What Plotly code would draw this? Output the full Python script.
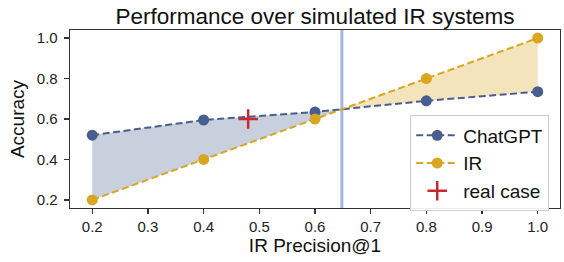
import plotly.graph_objects as go

# ---- data ----
precision = [0.2, 0.4, 0.6, 0.8, 1.0]
chatgpt_acc = [0.52, 0.595, 0.635, 0.69, 0.735]
ir_acc = [0.2, 0.4, 0.6, 0.8, 1.0]
real_x = [0.48]
real_y = [0.60]
x_ticks = [0.2, 0.3, 0.4, 0.5, 0.6, 0.7, 0.8, 0.9, 1.0]
y_ticks = [0.2, 0.4, 0.6, 0.8, 1.0]

BLUE = "#485f8e"
GOLD = "#daa520"
FONT = "Liberation Sans, Arial, sans-serif"

# ---- crossing point of the two curves ----
xi, yi, seg = None, None, None
for i in range(len(precision) - 1):
    d0 = chatgpt_acc[i] - ir_acc[i]
    d1 = chatgpt_acc[i + 1] - ir_acc[i + 1]
    if d0 * d1 < 0:
        t = d0 / (d0 - d1)
        xi = precision[i] + t * (precision[i + 1] - precision[i])
        yi = chatgpt_acc[i] + t * (chatgpt_acc[i + 1] - chatgpt_acc[i])
        seg = i
        break

fig = go.Figure()

# blue region (ChatGPT above IR)
bx = precision[:seg + 1] + [xi] + precision[:seg + 1][::-1]
by = chatgpt_acc[:seg + 1] + [yi] + ir_acc[:seg + 1][::-1]
fig.add_trace(go.Scatter(x=bx, y=by, fill="toself", mode="none",
                         fillcolor="rgba(72,95,142,0.30)", showlegend=False, hoverinfo="skip"))
# gold region (IR above ChatGPT)
gx = [xi] + precision[seg + 1:] + precision[seg + 1:][::-1]
gy = [yi] + ir_acc[seg + 1:] + chatgpt_acc[seg + 1:][::-1]
fig.add_trace(go.Scatter(x=gx, y=gy, fill="toself", mode="none",
                         fillcolor="rgba(218,165,32,0.30)", showlegend=False, hoverinfo="skip"))

fig.add_vline(x=xi, line=dict(color="#a4b6df", width=3), layer="below")

fig.add_trace(go.Scatter(x=precision, y=chatgpt_acc, mode="lines+markers", name="ChatGPT",
                         line=dict(color=BLUE, width=2, dash="7px,3.5px"),
                         marker=dict(color=BLUE, size=11)))
fig.add_trace(go.Scatter(x=precision, y=ir_acc, mode="lines+markers", name="IR",
                         line=dict(color=GOLD, width=2, dash="7px,3.5px"),
                         marker=dict(color=GOLD, size=11)))
fig.add_trace(go.Scatter(x=real_x, y=real_y, mode="markers", name="real case",
                         marker=dict(symbol="cross-thin", size=14, color="#c8282e",
                                     line=dict(color="#c8282e", width=2.5))))

axis_common = dict(showgrid=False, zeroline=False, showline=True, mirror=True,
                   linecolor="#333333", linewidth=1.3, ticks="outside", ticklen=5,
                   tickcolor="#333333", tickwidth=1.3, automargin=False,
                   tickfont=dict(family=FONT, size=15, color="#222222"))

fig.update_layout(
    width=564, height=262,
    margin=dict(l=70, r=4, t=30, b=54),
    paper_bgcolor="white", plot_bgcolor="white",
    title=dict(text="Performance over simulated IR systems", x=0.5, xanchor="center",
               xref="paper", yref="paper", y=1, yanchor="bottom", pad=dict(b=6),
               font=dict(family=FONT, size=22.5, color="#111111")),
    xaxis=dict(range=[0.16, 1.04], tickvals=x_ticks, tickformat=".1f",
               title=dict(text="IR Precision@1", font=dict(family=FONT, size=19, color="#111111"),
                          standoff=4), **axis_common),
    yaxis=dict(range=[0.16, 1.04], tickvals=y_ticks, tickformat=".1f", ticklabelstandoff=3,
               title=dict(text="Accuracy", font=dict(family=FONT, size=19, color="#111111"),
                          standoff=7), **axis_common),
    legend=dict(x=0.978, y=0.52, xanchor="right", yanchor="top",
                bgcolor="rgba(255,255,255,0.9)", bordercolor="#cccccc", borderwidth=1,
                font=dict(family=FONT, size=19, color="#111111"), itemwidth=42,
                tracegroupgap=0),
    showlegend=True,
    hovermode=False,
)

fig.write_html("out.html",
               config={"displayModeBar": False, "staticPlot": True},
               post_script="document.body.style.margin='0px';document.body.style.overflow='hidden';")
